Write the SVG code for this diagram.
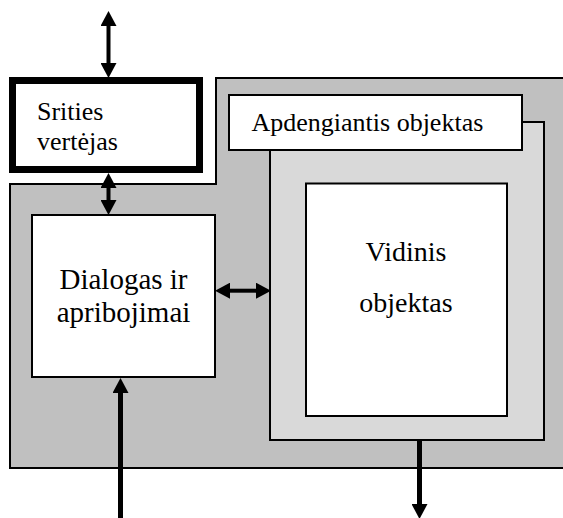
<svg xmlns="http://www.w3.org/2000/svg" width="563" height="518" viewBox="0 0 563 518">
  <style>
    .lbl { font-family: 'Liberation Serif', 'Times New Roman', 'DejaVu Serif', serif; fill: #000; }
    .box { fill: #fff; stroke: #000; stroke-width: 2; }
    .conn line { stroke: #000; fill: none; }
  </style>
  <defs>
    <marker id="head" viewBox="0 0 15 16" refX="0" refY="8" markerWidth="15" markerHeight="16" markerUnits="userSpaceOnUse" orient="auto-start-reverse">
      <path d="M0,0 L15,8 L0,16 Z" fill="#000"/>
    </marker>
  </defs>
  <rect width="563" height="518" fill="#fff"/>

  <!-- system boundary -->
  <g id="system">
    <path d="M10,184 H216 V78 H570 V468 H10 Z" fill="#c0c0c0" stroke="#000" stroke-width="2"/>
  </g>

  <!-- domain translator -->
  <g id="srities-vertejas">
    <rect x="12.5" y="80.5" width="187" height="89" fill="#fff" stroke="#000" stroke-width="7"/>
    <text class="lbl" x="37" y="120" font-size="26">Srities</text>
    <text class="lbl" x="37" y="150" font-size="26">vertėjas</text>
  </g>

  <!-- wrapping object -->
  <g id="apdengiantis-objektas">
    <rect x="270" y="122" width="274" height="318" fill="#d9d9d9" stroke="#000" stroke-width="2"/>
    <rect class="box" x="229" y="95" width="293" height="55"/>
    <text class="lbl" x="251.5" y="131" font-size="26">Apdengiantis objektas</text>
  </g>

  <!-- inner object -->
  <g id="vidinis-objektas">
    <rect class="box" x="306" y="183.5" width="201" height="232.5"/>
    <text class="lbl" x="406" y="261" font-size="28" text-anchor="middle">Vidinis</text>
    <text class="lbl" x="406" y="312" font-size="28" text-anchor="middle">objektas</text>
  </g>

  <!-- dialogue and constraints -->
  <g id="dialogas">
    <rect class="box" x="32" y="215" width="183" height="162"/>
    <text class="lbl" x="123.5" y="289" font-size="29" text-anchor="middle">Dialogas ir</text>
    <text class="lbl" x="123.5" y="322" font-size="29" text-anchor="middle">apribojimai</text>
  </g>

  <!-- connectors -->
  <g id="connectors" class="conn">
    <line x1="108.5" y1="26" x2="108.5" y2="63" stroke-width="4" marker-start="url(#head)" marker-end="url(#head)"/>
    <line x1="108.5" y1="188" x2="108.5" y2="200" stroke-width="4" marker-start="url(#head)" marker-end="url(#head)"/>
    <line x1="230" y1="290.7" x2="256" y2="290.7" stroke-width="4" marker-start="url(#head)" marker-end="url(#head)"/>
    <line x1="120.5" y1="518" x2="120.5" y2="393" stroke-width="5" marker-end="url(#head)"/>
    <line x1="419.5" y1="440" x2="419.5" y2="504" stroke-width="5" marker-end="url(#head)"/>
  </g>
</svg>
